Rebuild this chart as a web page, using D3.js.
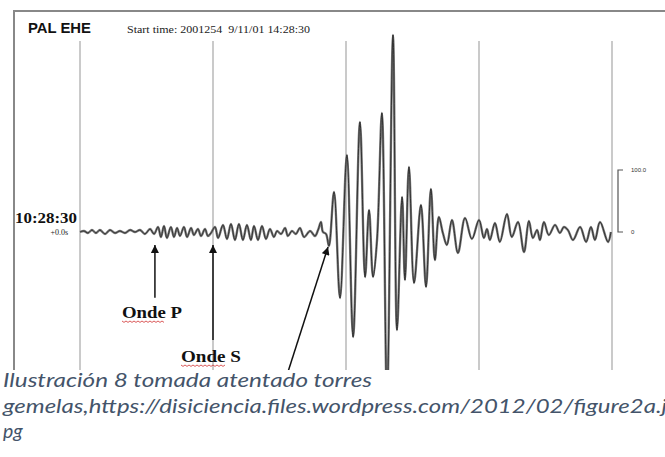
<!DOCTYPE html>
<html>
<head>
<meta charset="utf-8">
<script src="https://cdn.jsdelivr.net/npm/d3@7"></script>
<style>
  body { margin: 0; background: #fff; }
  svg { display: block; }
</style>
</head>
<body>
<div id="chart"></div>
<script>
// seismogram trace, read off the picture as successive peaks/troughs
// time in seconds after 10:28:30, amplitude in scale-bar units (bar = 100.0)
const traceTime = [
  0, 1.8, 3.6, 5.4, 7.2, 9.0, 11.3, 13.5, 15.8, 18.0, 20.3, 22.6, 24.8, 27.1, 29.3, 31.6, 33.4,
  35.2, 36.5, 37.9, 39.2, 41.0, 42.4, 43.8, 45.1, 46.9, 48.3, 50.1, 51.4, 53.2, 54.6, 56.4, 57.7, 59.1,
  60.9, 62.3, 64.5, 66.3, 68.1, 69.9, 71.7, 73.5, 75.3, 77.1, 78.5, 80.3, 82.1, 83.9, 85.7, 87.5,
  88.9, 90.7, 92.5, 93.8, 95.6, 97.4, 99.2, 101.1, 103.8, 106.0, 107.4, 108.7, 109.6, 111.0, 112.3,
  114.6, 117.3, 120.4, 123.2, 126.3, 128.6, 130.4, 132.2, 134.0, 136.2, 138.5, 141.2, 143.0,
  145.3, 146.6, 148.4, 150.7, 153.8, 156.1, 158.3, 160.1, 161.9, 163.7, 165.5, 167.8, 170.5,
  173.7, 176.8, 180.0, 182.2, 183.6, 184.9, 187.2, 189.4, 192.6, 194.8, 197.6, 200.3, 202.5,
  204.3, 206.2, 207.5, 209.3, 211.5, 214.3, 216.5, 218.3, 220.1, 222.4, 225.6, 228.3, 230.5,
  232.3, 234.6, 238.2, 239.5
];
const traceAmp = [
  0, 1.6, -1.6, 3.2, -1.6, 3.2, -3.2, 3.2, -1.6, 1.6, -1.6, 3.2, 0, 3.2, -3.2, 4.8, -3.2,
  8.1, -8.1, 9.7, -9.7, 8.1, -8.1, 6.5, -6.5, 8.1, -8.1, 6.5, -4.8, 4.8, -6.5, 4.8, -6.5, -1.6,
  8.1, -9.7, 11.3, -11.3, 12.9, -12.9, 12.9, -12.9, 11.3, -12.9, 9.7, -12.9, 9.7, -11.3, 4.8, -8.1,
  1.6, -3.2, 6.5, -6.5, 1.6, -3.2, 6.5, -8.1, 1.6, -6.5, 3.2, 16.1, 0, -3.2, -22.6,
  64.5, -106.5, 124.2, -169.4, 177.4, -72.6, 35.5, -72.6, -12.9, 191.9, -271.0, 317.7, -158.1,
  56.5, -77.4, 104.8, -82.3, 43.5, -88.7, 69.4, -45.2, 24.2, -1.6, -21.0, 19.4, -33.9,
  22.6, -11.3, 19.4, -9.7, 4.8, -12.9, 14.5, -16.1, 29.0, -8.1, 16.1, -32.3, 17.7,
  -9.7, 3.2, -12.9, 16.1, -4.8, 11.3, -1.6, 8.1, 3.2, -12.9, 8.1, -16.1, 8.1,
  -12.9, 16.1, -16.1, 0
];

const gridTimes = [0, 60, 120, 180, 240];
const scaleBarValues = [0, 100];
const scaleBarLabels = ["0", "100.0"];

const stationLabel = "PAL EHE";
const startLabel = "Start time: 2001254  9/11/01 14:28:30";
const clockLabel = "10:28:30";
const offsetLabel = "+0.0s";

// phase arrows: name, arrow tip (t, amp), arrow tail (t, amp)
const phaseNames = ["Onde P", "Onde S", ""];
const phaseTipTime = [33.8, 60.0, 111.9];
const phaseTipAmp = [-21, -21, -24];
const phaseTailTime = [33.8, 60.0, 93.8];
const phaseTailAmp = [-106, -174, -226];

const captionLines = [
  "Ilustración 8 tomada atentado torres",
  "gemelas,https://disiciencia.files.wordpress.com/2012/02/figure2a.j",
  "pg"
];

const W = 665, H = 457, imgBottom = 370;

const svg = d3.select("#chart").append("svg")
  .attr("width", W).attr("height", H);

const defs = svg.append("defs");
defs.append("clipPath").attr("id", "clip")
  .append("rect").attr("x", 0).attr("y", 0).attr("width", W).attr("height", imgBottom);
defs.append("marker")
    .attr("id", "arrow").attr("viewBox", "0 0 10 10")
    .attr("refX", 10).attr("refY", 5)
    .attr("markerWidth", 10).attr("markerHeight", 8)
    .attr("markerUnits", "userSpaceOnUse")
    .attr("orient", "auto")
  .append("path").attr("d", "M0,0L10,5L0,10Z").attr("fill", "#111");

const x = d3.scaleLinear().domain([0, 240]).range([80, 612]);
const y = d3.scaleLinear().domain([0, 100]).range([232, 170]);

// frame (top and left edge of the scanned record)
svg.append("rect")
  .attr("x", 13).attr("y", 10).attr("width", W - 13).attr("height", 2)
  .attr("fill", "#888");
svg.append("rect")
  .attr("x", 13).attr("y", 10).attr("width", 2).attr("height", imgBottom - 10)
  .attr("fill", "#888");

const plot = svg.append("g").attr("clip-path", "url(#clip)");

// minute grid
plot.selectAll("line.grid").data(gridTimes).join("line")
  .attr("class", "grid")
  .attr("x1", d => x(d)).attr("x2", d => x(d))
  .attr("y1", 41).attr("y2", imgBottom)
  .attr("stroke", "#b8b8b8").attr("stroke-width", 1.5);

// trace
const pts = traceTime.map((t, i) => [t, traceAmp[i]]);
const line = d3.line()
  .x(d => x(d[0])).y(d => y(d[1]))
  .curve(d3.curveCatmullRom.alpha(0.5));

plot.append("path").datum(pts)
  .attr("d", line)
  .attr("fill", "none").attr("stroke", "#7a7a7a").attr("stroke-width", 2.4)
  .attr("stroke-linejoin", "round");
plot.append("path").datum(pts)
  .attr("d", line)
  .attr("fill", "none").attr("stroke", "#2a2a2a").attr("stroke-width", 0.9)
  .attr("stroke-linejoin", "round");

// amplitude scale bar
const barX = 618;
plot.append("path")
  .attr("d", `M${barX + 5},${y(scaleBarValues[1])}H${barX}V${y(scaleBarValues[0])}H${barX + 5}`)
  .attr("fill", "none").attr("stroke", "#555").attr("stroke-width", 1.2);
plot.selectAll("text.bar").data(scaleBarValues).join("text")
  .attr("class", "bar")
  .attr("x", barX + 13).attr("y", d => y(d) + 2)
  .attr("font-family", "Liberation Sans, Arial, sans-serif")
  .attr("font-size", 6).attr("fill", "#333")
  .text((d, i) => scaleBarLabels[i]);

// header text
plot.append("text")
  .attr("x", 28).attr("y", 33)
  .attr("font-family", "Liberation Sans, Arial, sans-serif")
  .attr("font-weight", "bold").attr("font-size", 14).attr("fill", "#111")
  .attr("textLength", 63).attr("lengthAdjust", "spacingAndGlyphs")
  .text(stationLabel);
plot.append("text")
  .attr("x", 127).attr("y", 33)
  .attr("font-family", "Liberation Serif, Times New Roman, serif")
  .attr("font-size", 10).attr("fill", "#222")
  .attr("textLength", 183).attr("lengthAdjust", "spacingAndGlyphs")
  .attr("xml:space", "preserve")
  .text(startLabel);

plot.append("text")
  .attr("x", 77).attr("y", 223).attr("text-anchor", "end")
  .attr("font-family", "Liberation Serif, Times New Roman, serif")
  .attr("font-weight", "bold").attr("font-size", 15).attr("fill", "#111")
  .attr("textLength", 62).attr("lengthAdjust", "spacingAndGlyphs")
  .text(clockLabel);
plot.append("text")
  .attr("x", 68).attr("y", 235).attr("text-anchor", "end")
  .attr("font-family", "Liberation Serif, Times New Roman, serif")
  .attr("font-size", 8).attr("fill", "#222")
  .text(offsetLabel);

// phase arrows
phaseNames.forEach((name, i) => {
  plot.append("line")
    .attr("x1", x(phaseTailTime[i])).attr("y1", y(phaseTailAmp[i]))
    .attr("x2", x(phaseTipTime[i])).attr("y2", y(phaseTipAmp[i]))
    .attr("stroke", "#111").attr("stroke-width", 1.5)
    .attr("marker-end", "url(#arrow)");
});

// phase labels with the red spell-check squiggle under "Onde"
const labelPos = [[122, 318], [181, 362]];
phaseNames.slice(0, 2).forEach((name, i) => {
  const [lx, ly] = labelPos[i];
  const t = plot.append("text")
    .attr("x", lx).attr("y", ly)
    .attr("font-family", "Liberation Serif, Times New Roman, serif")
    .attr("font-weight", "bold").attr("font-size", 17).attr("fill", "#111")
    .text(name);
  const full = t.node().getComputedTextLength();
  const word = t.node().getSubStringLength(0, 4);
  const target = 60;
  t.attr("textLength", target).attr("lengthAdjust", "spacingAndGlyphs");
  const uw = word * target / full;
  const zig = d3.range(0, Math.floor(uw / 2) + 1).map(k => [lx + k * 2, ly + 3 + (k % 2 ? 1.4 : 0)]);
  plot.append("path")
    .attr("d", d3.line()(zig))
    .attr("fill", "none").attr("stroke", "#d03030").attr("stroke-width", 0.8);
});

// caption
svg.selectAll("text.caption").data(captionLines).join("text")
  .attr("class", "caption")
  .attr("x", 3).attr("y", (d, i) => 387 + i * 25.5)
  .attr("font-family", "Lato, Open Sans, sans-serif")
  .attr("font-style", "italic").attr("font-size", 19.5).attr("fill", "#44546a")
  .each(function (d, i) {
    const el = d3.select(this).text(d);
    if (i === 0) el.attr("textLength", 369).attr("lengthAdjust", "spacingAndGlyphs");
    if (i === 1) el.attr("textLength", 664).attr("lengthAdjust", "spacingAndGlyphs");
  });
</script>
</body>
</html>
